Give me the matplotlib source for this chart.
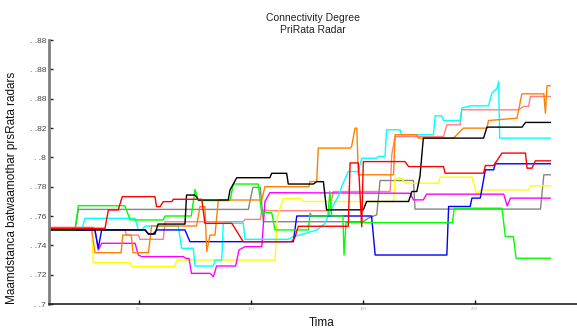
import matplotlib
matplotlib.use("Agg")
import matplotlib.pyplot as plt

plt.rcParams['font.family'] = ['Liberation Sans', 'DejaVu Sans']

# Stapreeksen per radar: tijdstip en connectiviteitsgraad
red_t = [10, 35.0, 36.5, 40.9, 42.7, 57.3, 58.0, 59.6, 61.0, 64.8, 65.5, 78.2, 79.6, 91.6, 96.7, 118.3, 119.8, 121.3,
         143.6, 144.4, 148.1, 149.6, 150.3, 168.9, 170.5, 186.1, 186.8, 204.0, 204.8, 208.5, 212.2, 222.7, 223.4,
         225.6, 227.1, 233.8]
red_v = [.7516, .7516, .7641, .7641, .7732, .7732, .7664, .7664, .7698, .7698, .7714, .7714, .755, .755, .7425,
         .7425, .7455, .753, .753, .7962, .7962, .7526, .7971, .7971, .7937, .7937, .7892, .7892, .7944, .7944,
         .8029, .8029, .7926, .7926, .7976, .7976]

green_t = [10, 21.6, 23.1, 43.9, 46.2, 61.0, 61.8, 73.5, 75.2, 76.7, 90.8, 92.3, 103.4, 104.9, 109.4, 110.9, 125.8,
           126.5, 127.3, 134.5, 135.4, 136.2, 141.2, 141.7, 142.6, 190.1, 190.9, 212.2, 213.7, 217.3, 218.5, 233.8]
green_v = [.7505, .7505, .767, .767, .7573, .7573, .760, .760, .7782, .7705, .7705, .7818, .7818, .7623, .7623,
           .7505, .7505, .762, .760, .760, .7767, .760, .760, .7334, .7555, .7555, .7653, .7653, .746, .746,
           .7312, .7312]

blue_t = [10, 30.5, 32.0, 33.5, 52.9, 54.4, 56.5, 58.0, 70.7, 72.9, 119.1, 120.6, 154.0, 155.6, 187.6, 188.4,
          198.0, 198.8, 202.5, 204.8, 208.5, 209.2, 233.8]
blue_v = [.7505, .7505, .738, .7505, .7505, .7477, .7477, .7505, .7505, .7425, .7425, .760, .760, .7334, .7334,
          .7665, .7665, .7722, .7722, .7915, .7915, .7956, .7956]

cyan_t = [10, 24.6, 26.1, 48.4, 49.9, 51.4, 52.9, 67.7, 69.2, 74.4, 75.2, 83.4, 84.1, 87.1, 87.8, 96.7, 97.5,
          116.8, 119.1, 123.5, 129.5, 133.2, 134.7, 139.9, 140.6, 143.6, 148.1, 149.6, 156.3, 157.0, 160.0, 160.7,
          166.7, 167.4, 181.6, 182.4, 185.3, 186.1, 193.5, 194.3, 198.0, 206.2, 207.7, 210.0, 210.7, 211.2, 233.8]
cyan_v = [.7505, .7505, .7584, .7584, .7505, .7505, .7532, .7532, .738, .738, .7259, .7259, .730, .730, .755,
          .755, .7441, .7441, .7459, .7477, .7505, .755, .7607, .7759, .780, .7903, .7903, .7994, .7994, .8006,
          .8006, .8188, .8188, .8154, .8154, .8283, .8283, .8251, .8251, .8335, .8351, .8351, .8438, .8472,
          .8518, .8131, .8131]

magenta_t = [10, 30.5, 32.0, 33.5, 48.4, 49.9, 51.4, 70.0, 71.0, 72.5, 73.6, 81.9, 83.4, 84.8, 93.3, 94.8, 97.5,
             105.0, 106.4, 108.6, 171.2, 172.7, 177.1, 178.6, 213.0, 214.5, 216.0, 233.8]
magenta_v = [.7505, .7505, .7368, .7414, .7414, .7334, .7323, .7323, .7311, .7311, .7209, .7209, .7186, .7259,
             .7259, .7368, .7391, .7391, .770, .7759, .7755, .771, .771, .7749, .7749, .7669, .7722, .7722]

yellow_t = [10, 29.0, 29.8, 46.2, 47.0, 66.2, 67.0, 110.9, 112.0, 114.6, 122.0, 123.5, 163.8, 164.5, 167.4,
            168.9, 183.9, 184.6, 198.8, 201.0, 202.5, 224.1, 224.9, 233.8]
yellow_v = [.7505, .7505, .7282, .7282, .7255, .7255, .730, .730, .760, .772, .772, .7699, .7699, .7858, .7858,
            .7824, .7824, .7865, .7865, .7744, .7778, .7778, .7806, .7806]

black_t = [10, 52.9, 54.4, 57.3, 58.7, 70.7, 71.4, 75.2, 76.7, 90.0, 90.8, 93.8, 108.6, 109.4, 116.1, 116.8,
           128.0, 129.5, 132.5, 133.9, 150.3, 151.8, 170.5, 172.0, 174.2, 175.6, 177.1, 204.0, 205.5, 221.2,
           222.7, 233.8]
black_v = [.7505, .7505, .7477, .7477, .7545, .7545, .7743, .7743, .7709, .7709, .7777, .7861, .7861, .7891,
           .7891, .7818, .7818, .7834, .7834, .7642, .7642, .7699, .7699, .7767, .7767, .787, .8131, .8131,
           .8206, .8206, .8238, .8238]

orange_t = [10, 29.0, 30.5, 42.2, 42.9, 46.7, 47.5, 54.4, 55.8, 75.9, 77.4, 79.6, 80.4, 81.9, 84.1, 85.6, 105.0,
            106.4, 126.0, 126.5, 129.5, 130.2, 144.4, 145.1, 146.6, 147.4, 148.1, 163.8, 164.5, 174.2, 174.9,
            190.6, 195.0, 205.5, 206.2, 218.9, 221.1, 230.9, 231.6, 232.3, 233.8]
orange_v = [.7516, .7516, .735, .735, .747, .747, .735, .735, .7532, .7532, .7664, .7664, .7357, .747, .747,
            .7709, .7709, .780, .780, .7835, .7835, .8063, .8063, .8074, .8199, .8199, .7881, .7881, .8154,
            .8154, .8131, .8131, .8199, .8199, .8251, .8267, .8433, .8433, .8301, .8488, .8488]

gray_t = [10, 21.6, 23.1, 99.0, 101.0, 104.3, 105.7, 150.3, 152.5, 156.3, 157.8, 172.7, 173.4, 229.4, 230.9, 233.8]
gray_v = [.7505, .7505, .7645, .7645, .7795, .7795, .7561, .7561, .7585, .7608, .7842, .7842, .7647, .7647,
          .7881, .7881]

salmon_t = [10, 29.8, 30.5, 43.9, 44.6, 49.9, 50.6, 61.0, 61.8, 96.7, 97.5, 104.3, 105.0, 135.4, 136.9, 162.3,
            163.0, 164.5, 186.1, 187.6, 193.5, 194.3, 219.6, 221.9, 224.1, 224.9, 233.8]
salmon_v = [.7523, .7523, .7505, .7505, .747, .747, .7441, .7441, .7561, .7561, .7577, .7577, .7636, .7636,
            .7767, .7767, .8017, .8142, .8142, .8222, .8222, .8324, .8324, .8347, .8347, .8415, .8415]

y_ticks = [.70, .72, .74, .76, .78, .80, .82, .84, .86, .88]
y_ticklabels = [". .7", ". .72", ". .74", ". .76", ". .78", ". .8", ". .82", ". .88", ". .88", ". .88"]
x_ticks = [50, 100, 150, 200]

series = [
    (salmon_t, salmon_v, "#ff8080"),
    (gray_t, gray_v, "#858585"),
    (yellow_t, yellow_v, "#ffff00"),
    (magenta_t, magenta_v, "#ff00ff"),
    (cyan_t, cyan_v, "#00ffff"),
    (blue_t, blue_v, "#0000ff"),
    (green_t, green_v, "#00ff00"),
    (orange_t, orange_v, "#ff8000"),
    (black_t, black_v, "#000000"),
    (red_t, red_v, "#ff0000"),
]

fig = plt.figure(figsize=(5.77, 3.32), dpi=100)
ax = fig.add_axes([49 / 577, 1 - 304 / 332, 1 - 49 / 577, 264 / 332])

for t, v, kleur in series:
    ax.plot(t, v, color=kleur, lw=1.0)

ax.set_xlim(10, 245.7)
ax.set_ylim(0.70, 0.88)
ax.set_yticks(y_ticks)
ax.set_yticklabels(y_ticklabels, fontsize=6, color="#444444")
ax.set_xticks(x_ticks)
ax.set_xticklabels([str(x) for x in x_ticks], fontsize=3, color="#aaaaaa")
ax.tick_params(axis="both", direction="in", length=3, width=1, pad=2)
ax.tick_params(axis="y", colors="#222222", labelcolor="#444444")

for s in ("top", "right"):
    ax.spines[s].set_visible(False)
ax.spines["left"].set_color("#808080")
ax.spines["left"].set_linewidth(2)
ax.spines["bottom"].set_color("#222222")
ax.spines["bottom"].set_linewidth(1.2)

ax.set_title("Connectivity Degree\nPriRata Radar", fontsize=7.5, pad=5, color="#222222")
ax.set_ylabel("Maamdstanca batwaamothar prsRata radars", fontsize=8.5, color="#111111")
ax.yaxis.set_label_coords(-0.058, 0.44)
ax.set_xlabel("Tima", fontsize=8.5, color="#111111")
ax.xaxis.set_label_coords(0.517, -0.05)

fig.savefig("out.png", dpi=100)
